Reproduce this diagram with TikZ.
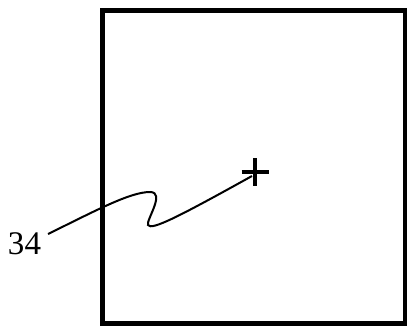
\documentclass[tikz,border=0pt]{standalone}
\usepackage{fontspec}
\setmainfont{Liberation Serif}
\begin{document}
\begin{tikzpicture}[x=1pt, y=-1pt, every node/.style={inner sep=0pt, font=\fontsize{33}{36}\selectfont}]
	\useasboundingbox (0,0) rectangle (409,329);
	% 方框
	\draw[line width=4.5pt] (102.5,10.5) rectangle (405,323.5);
	
	% 十字标记
	\coordinate (tip) at (255,172);
	\draw[line width=4pt] (tip) +(-13.5,0) -- +(13.5,0);
	\draw[line width=4pt] (tip) +(0,-14) -- +(0,14);
	
	% 标号与引线
	\node (lbl) at (24.5,244) {34};
	\coordinate (lead) at (48,234);
	\coordinate (end) at (252,176);
	\draw[line width=2pt] (lead) .. controls (95,211) and (130,192) .. (150,192)
		.. controls (166,192) and (146,220) .. (148,225)
		.. controls (151,231) and (180,216) .. (end);
\end{tikzpicture}
\end{document}
